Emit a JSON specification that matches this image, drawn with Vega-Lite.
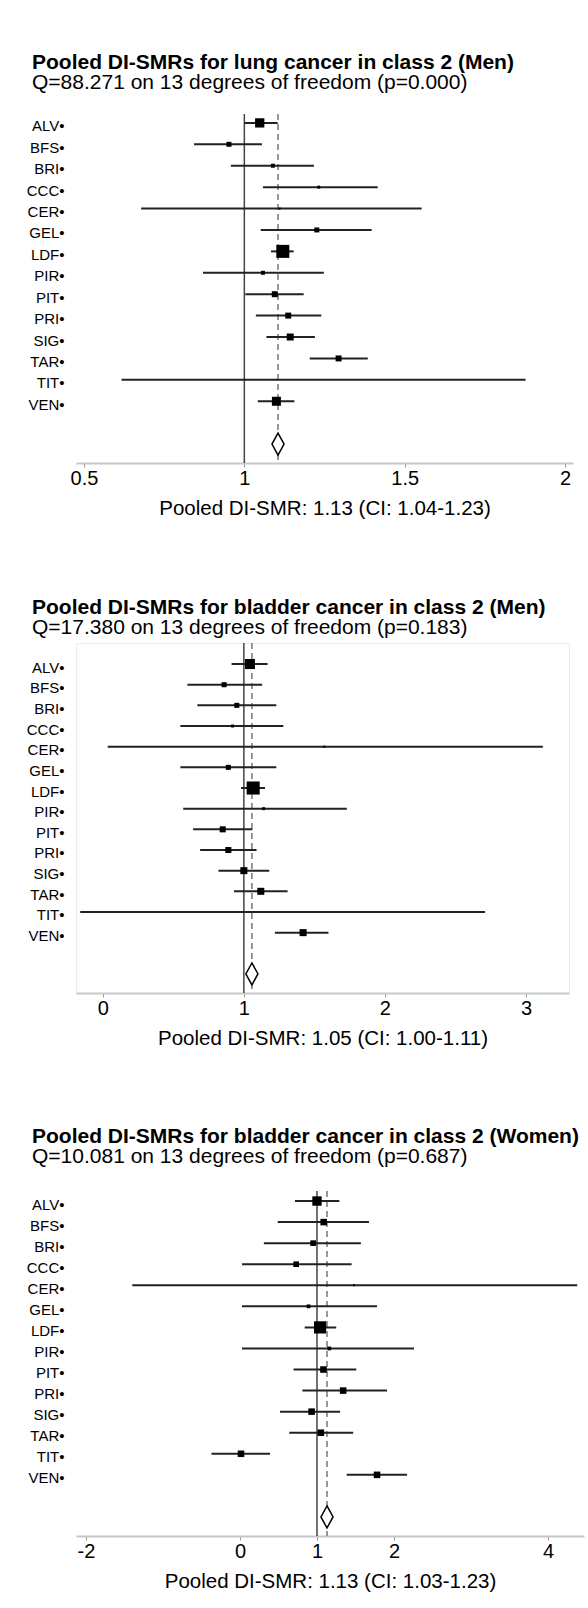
{
  "$schema": "https://vega.github.io/schema/vega-lite/v6.json",
  "padding": {"left": 25, "top": 52, "right": 3, "bottom": 5},
  "autosize": {"type": "pad"},
  "config": {
    "font": "Liberation Sans",
    "view": {"stroke": null},
    "title": {"fontSize": 21, "fontWeight": "bold", "color": "#000", "subtitleFontSize": 21, "subtitleFont": "Liberation Sans", "subtitleColor": "#000", "anchor": "start", "frame": "group", "dx": -44, "subtitlePadding": -1},
    "axisY": {"domain": false, "ticks": false, "grid": false, "labelFontSize": 15, "labelColor": "#000", "labelPadding": 12, "minExtent": 50, "maxExtent": 50, "labelOffset": 3},
    "axisX": {"grid": false, "domainColor": "#c8c8c8", "domainWidth": 2, "tickColor": "#999", "tickSize": 4, "labelFontSize": 20, "labelColor": "#000", "labelPadding": 1, "titleFontSize": 20.5, "titleFontWeight": "normal", "titleColor": "#000", "titlePadding": 10},
    "concat": {"spacing": 77}
  },
  "datasets": {
    "lung_men": [
      {"site": "ALV", "est": 1.048, "lo": 1.0, "hi": 1.104, "w": 14.6},
      {"site": "BFS", "est": 0.952, "lo": 0.843, "hi": 1.055, "w": 4.2},
      {"site": "BRI", "est": 1.089, "lo": 0.958, "hi": 1.217, "w": 2.7},
      {"site": "CCC", "est": 1.232, "lo": 1.058, "hi": 1.416, "w": 1.5},
      {"site": "CER", "est": 1.11, "lo": 0.678, "hi": 1.553, "w": 0.7},
      {"site": "GEL", "est": 1.226, "lo": 1.051, "hi": 1.397, "w": 4.2},
      {"site": "LDF", "est": 1.12, "lo": 1.083, "hi": 1.154, "w": 28.7},
      {"site": "PIR", "est": 1.058, "lo": 0.871, "hi": 1.248, "w": 2.7},
      {"site": "PIT", "est": 1.095, "lo": 1.003, "hi": 1.185, "w": 6.1},
      {"site": "PRI", "est": 1.137, "lo": 1.036, "hi": 1.24, "w": 6.1},
      {"site": "SIG", "est": 1.143, "lo": 1.069, "hi": 1.22, "w": 8.3},
      {"site": "TAR", "est": 1.294, "lo": 1.204, "hi": 1.385, "w": 6.1},
      {"site": "TIT", "est": 1.1, "lo": 0.617, "hi": 1.877, "w": 0.1},
      {"site": "VEN", "est": 1.1, "lo": 1.042, "hi": 1.156, "w": 13.8}
    ],
    "lung_men_pooled": [{"site": "Pooled", "est": 1.105, "lo": 1.04, "hi": 1.23}],
    "bladder_men": [
      {"site": "ALV", "est": 1.043, "lo": 0.913, "hi": 1.168, "w": 17.1},
      {"site": "BFS", "est": 0.86, "lo": 0.6, "hi": 1.13, "w": 4.3},
      {"site": "BRI", "est": 0.95, "lo": 0.67, "hi": 1.23, "w": 4.3},
      {"site": "CCC", "est": 0.92, "lo": 0.55, "hi": 1.28, "w": 1.5},
      {"site": "CER", "est": 1.57, "lo": 0.035, "hi": 3.12, "w": 0.7},
      {"site": "GEL", "est": 0.89, "lo": 0.55, "hi": 1.23, "w": 4.3},
      {"site": "LDF", "est": 1.066, "lo": 0.98, "hi": 1.15, "w": 28.9},
      {"site": "PIR", "est": 1.14, "lo": 0.57, "hi": 1.73, "w": 1.5},
      {"site": "PIT", "est": 0.85, "lo": 0.64, "hi": 1.06, "w": 6.2},
      {"site": "PRI", "est": 0.89, "lo": 0.69, "hi": 1.09, "w": 6.2},
      {"site": "SIG", "est": 1.0, "lo": 0.82, "hi": 1.18, "w": 8.4},
      {"site": "TAR", "est": 1.12, "lo": 0.93, "hi": 1.31, "w": 8.4},
      {"site": "TIT", "est": 1.1, "lo": -0.16, "hi": 2.71, "w": 0.05},
      {"site": "VEN", "est": 1.42, "lo": 1.22, "hi": 1.6, "w": 8.4}
    ],
    "bladder_men_pooled": [{"site": "Pooled", "est": 1.057, "lo": 1.0, "hi": 1.11}],
    "bladder_women": [
      {"site": "ALV", "est": 1.0, "lo": 0.714, "hi": 1.29, "w": 14.9},
      {"site": "BFS", "est": 1.087, "lo": 0.49, "hi": 1.675, "w": 7.3},
      {"site": "BRI", "est": 0.95, "lo": 0.31, "hi": 1.57, "w": 5.4},
      {"site": "CCC", "est": 0.73, "lo": 0.026, "hi": 1.45, "w": 5.4},
      {"site": "CER", "est": 1.48, "lo": -1.4, "hi": 4.38, "w": 0.6},
      {"site": "GEL", "est": 0.89, "lo": 0.026, "hi": 1.78, "w": 2.4},
      {"site": "LDF", "est": 1.04, "lo": 0.84, "hi": 1.25, "w": 25.2},
      {"site": "PIR", "est": 1.16, "lo": 0.026, "hi": 2.26, "w": 2.4},
      {"site": "PIT", "est": 1.084, "lo": 0.695, "hi": 1.51, "w": 7.3},
      {"site": "PRI", "est": 1.34, "lo": 0.81, "hi": 1.91, "w": 7.3},
      {"site": "SIG", "est": 0.93, "lo": 0.52, "hi": 1.3, "w": 7.3},
      {"site": "TAR", "est": 1.05, "lo": 0.64, "hi": 1.47, "w": 7.3},
      {"site": "TIT", "est": 0.013, "lo": -0.37, "hi": 0.39, "w": 7.3},
      {"site": "VEN", "est": 1.78, "lo": 1.386, "hi": 2.17, "w": 7.3}
    ],
    "bladder_women_pooled": [{"site": "Pooled", "est": 1.13, "lo": 1.03, "hi": 1.23}]
  },
  "vconcat": [
    {
      "width": 497, "height": 349,
      "title": {"text": "Pooled DI-SMRs for lung cancer in class 2 (Men)", "subtitle": "Q=88.271 on 13 degrees of freedom (p=0.000)", "offset": 20},
      "layer": [
        {
          "data": {"name": "lung_men_pooled"},
          "mark": {"type": "rule", "color": "#444", "strokeWidth": 1.5},
          "encoding": {"x": {"datum": 1, "type": "quantitative", "scale": {"domain": [0.475, 2.025], "nice": false, "zero": false}, "title": "Pooled DI-SMR: 1.13 (CI: 1.04-1.23)", "axis": {"values": [0.5, 1, 1.5, 2], "labelExpr": "toString(datum.value)"}}}
        },
        {
          "data": {"name": "lung_men_pooled"},
          "mark": {"type": "rule", "color": "#777", "strokeWidth": 1.5, "strokeDash": [6, 4]},
          "encoding": {"x": {"field": "est", "type": "quantitative", "title": "Pooled DI-SMR: 1.13 (CI: 1.04-1.23)"}}
        },
        {
          "data": {"name": "lung_men"},
          "mark": {"type": "rule", "color": "#222", "strokeWidth": 2},
          "encoding": {
            "x": {"field": "lo", "type": "quantitative", "title": "Pooled DI-SMR: 1.13 (CI: 1.04-1.23)"},
            "x2": {"field": "hi"},
            "y": {"field": "site", "type": "nominal", "title": null, "scale": {"type": "point", "domain": ["ALV", "BFS", "BRI", "CCC", "CER", "GEL", "LDF", "PIR", "PIT", "PRI", "SIG", "TAR", "TIT", "VEN", "gap", "Pooled"], "padding": 0.65, "align": 0.32}, "axis": {"labelExpr": "datum.value == 'gap' || datum.value == 'Pooled' ? '' : datum.value + '•'"}}
          }
        },
        {
          "data": {"name": "lung_men"},
          "mark": {"type": "point", "shape": "square", "filled": true, "color": "#000", "opacity": 1},
          "encoding": {
            "x": {"field": "est", "type": "quantitative", "title": "Pooled DI-SMR: 1.13 (CI: 1.04-1.23)"},
            "y": {"field": "site", "type": "nominal", "title": null},
            "size": {"field": "w", "type": "quantitative", "scale": {"domain": [0, 100], "range": [0, 589]}, "legend": null}
          }
        },
        {
          "data": {"name": "lung_men_pooled"},
          "mark": {"type": "point", "shape": "M0,-1L0.55,0L0,1L-0.55,0Z", "filled": true, "fill": "#fff", "stroke": "#000", "strokeWidth": 1.5, "size": 484, "opacity": 1},
          "encoding": {
            "x": {"field": "est", "type": "quantitative", "title": "Pooled DI-SMR: 1.13 (CI: 1.04-1.23)"},
            "y": {"field": "site", "type": "nominal", "title": null}
          }
        }
      ]
    },
    {
      "width": 493, "height": 350,
      "view": {"stroke": "#ececec"},
      "title": {"text": "Pooled DI-SMRs for bladder cancer in class 2 (Men)", "subtitle": "Q=17.380 on 13 degrees of freedom (p=0.183)", "offset": 4},
      "layer": [
        {
          "data": {"name": "bladder_men_pooled"},
          "mark": {"type": "rule", "color": "#444", "strokeWidth": 1.5},
          "encoding": {"x": {"datum": 1, "type": "quantitative", "scale": {"domain": [-0.19, 3.305], "nice": false, "zero": false}, "title": "Pooled DI-SMR: 1.05 (CI: 1.00-1.11)", "axis": {"values": [0, 1, 2, 3], "labelExpr": "toString(datum.value)"}}}
        },
        {
          "data": {"name": "bladder_men_pooled"},
          "mark": {"type": "rule", "color": "#777", "strokeWidth": 1.5, "strokeDash": [6, 4]},
          "encoding": {"x": {"field": "est", "type": "quantitative", "title": "Pooled DI-SMR: 1.05 (CI: 1.00-1.11)"}}
        },
        {
          "data": {"name": "bladder_men"},
          "mark": {"type": "rule", "color": "#222", "strokeWidth": 2},
          "encoding": {
            "x": {"field": "lo", "type": "quantitative", "title": "Pooled DI-SMR: 1.05 (CI: 1.00-1.11)"},
            "x2": {"field": "hi"},
            "y": {"field": "site", "type": "nominal", "title": null, "scale": {"type": "point", "domain": ["ALV", "BFS", "BRI", "CCC", "CER", "GEL", "LDF", "PIR", "PIT", "PRI", "SIG", "TAR", "TIT", "VEN", "gap", "Pooled"], "padding": 0.97, "align": 0.525}, "axis": {"labelExpr": "datum.value == 'gap' || datum.value == 'Pooled' ? '' : datum.value + '•'"}}
          }
        },
        {
          "data": {"name": "bladder_men"},
          "mark": {"type": "point", "shape": "square", "filled": true, "color": "#000", "opacity": 1},
          "encoding": {
            "x": {"field": "est", "type": "quantitative", "title": "Pooled DI-SMR: 1.05 (CI: 1.00-1.11)"},
            "y": {"field": "site", "type": "nominal", "title": null},
            "size": {"field": "w", "type": "quantitative", "scale": {"domain": [0, 100], "range": [0, 585]}, "legend": null}
          }
        },
        {
          "data": {"name": "bladder_men_pooled"},
          "mark": {"type": "point", "shape": "M0,-1L0.55,0L0,1L-0.55,0Z", "filled": true, "fill": "#fff", "stroke": "#000", "strokeWidth": 1.5, "size": 484, "opacity": 1},
          "encoding": {
            "x": {"field": "est", "type": "quantitative", "title": "Pooled DI-SMR: 1.05 (CI: 1.00-1.11)"},
            "y": {"field": "site", "type": "nominal", "title": null}
          }
        }
      ]
    },
    {
      "width": 508, "height": 345,
      "title": {"text": "Pooled DI-SMRs for bladder cancer in class 2 (Women)", "subtitle": "Q=10.081 on 13 degrees of freedom (p=0.687)", "offset": 23},
      "layer": [
        {
          "data": {"name": "bladder_women_pooled"},
          "mark": {"type": "rule", "color": "#444", "strokeWidth": 1.5},
          "encoding": {"x": {"datum": 1, "type": "quantitative", "scale": {"domain": [-2.13, 4.468], "nice": false, "zero": false}, "title": "Pooled DI-SMR: 1.13 (CI: 1.03-1.23)", "axis": {"values": [-2, 0, 1, 2, 4], "labelExpr": "toString(datum.value)"}}}
        },
        {
          "data": {"name": "bladder_women_pooled"},
          "mark": {"type": "rule", "color": "#777", "strokeWidth": 1.5, "strokeDash": [6, 4]},
          "encoding": {"x": {"field": "est", "type": "quantitative", "title": "Pooled DI-SMR: 1.13 (CI: 1.03-1.23)"}}
        },
        {
          "data": {"name": "bladder_women"},
          "mark": {"type": "rule", "color": "#222", "strokeWidth": 2},
          "encoding": {
            "x": {"field": "lo", "type": "quantitative", "title": "Pooled DI-SMR: 1.13 (CI: 1.03-1.23)"},
            "x2": {"field": "hi"},
            "y": {"field": "site", "type": "nominal", "title": null, "scale": {"type": "point", "domain": ["ALV", "BFS", "BRI", "CCC", "CER", "GEL", "LDF", "PIR", "PIT", "PRI", "SIG", "TAR", "TIT", "VEN", "gap", "Pooled"], "padding": 0.69, "align": 0.345}, "axis": {"labelExpr": "datum.value == 'gap' || datum.value == 'Pooled' ? '' : datum.value + '•'"}}
          }
        },
        {
          "data": {"name": "bladder_women"},
          "mark": {"type": "point", "shape": "square", "filled": true, "color": "#000", "opacity": 1},
          "encoding": {
            "x": {"field": "est", "type": "quantitative", "title": "Pooled DI-SMR: 1.13 (CI: 1.03-1.23)"},
            "y": {"field": "site", "type": "nominal", "title": null},
            "size": {"field": "w", "type": "quantitative", "scale": {"domain": [0, 100], "range": [0, 671]}, "legend": null}
          }
        },
        {
          "data": {"name": "bladder_women_pooled"},
          "mark": {"type": "point", "shape": "M0,-1L0.55,0L0,1L-0.55,0Z", "filled": true, "fill": "#fff", "stroke": "#000", "strokeWidth": 1.5, "size": 484, "opacity": 1},
          "encoding": {
            "x": {"field": "est", "type": "quantitative", "title": "Pooled DI-SMR: 1.13 (CI: 1.03-1.23)"},
            "y": {"field": "site", "type": "nominal", "title": null}
          }
        }
      ]
    }
  ]
}
